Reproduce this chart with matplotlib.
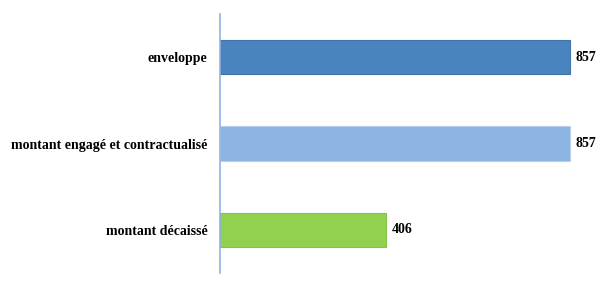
import matplotlib.pyplot as plt

# Data
categories = ['enveloppe', 'montant engagé et contractualisé', 'montant décaissé']
values = [857, 857, 406]
colors = ['#4A84BE', '#8DB4E3', '#92D050']
edges = ['#3F72A8', '#B9D0EC', '#86C447']

fig = plt.figure(figsize=(6.03, 2.89), dpi=100)
ax = fig.add_axes([0.3648, 0.0554, 0.6, 0.896])

y = list(range(len(categories)))
bars = ax.barh(y, values, height=0.4, color=colors, edgecolor=edges, linewidth=0.8)
ax.set_ylim(len(categories) - 0.5, -0.5)
ax.set_xlim(0, 886)

ax.set_yticks(y)
ax.set_yticklabels(categories, fontfamily='Liberation Serif', fontweight='bold', fontsize=10)
ax.tick_params(axis='y', length=0, pad=9)
ax.set_xticks([])

for s in ['top', 'right', 'bottom']:
    ax.spines[s].set_visible(False)
ax.spines['left'].set_color('#8EB4E3')
ax.spines['left'].set_linewidth(1.2)

# value labels
for yi, v in zip(y, values):
    ax.text(v + 14, yi, f'{v}', va='center', ha='left',
            fontfamily='Liberation Serif', fontweight='bold', fontsize=10)

plt.savefig('out.png', dpi=100)
